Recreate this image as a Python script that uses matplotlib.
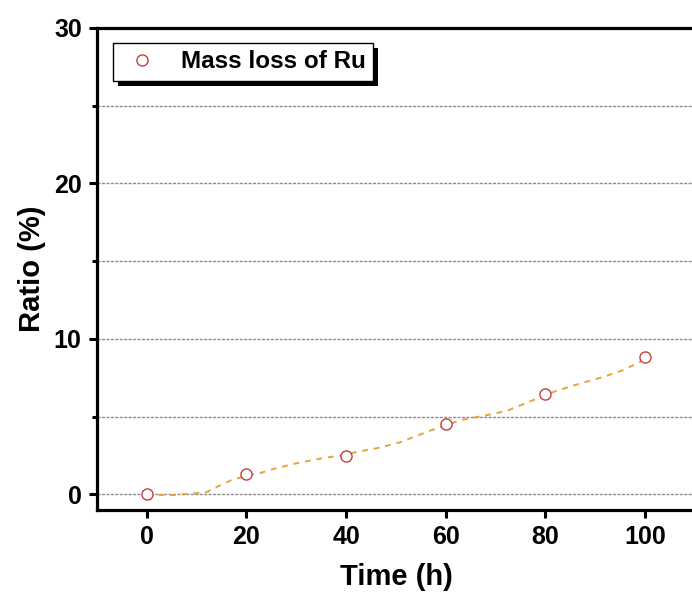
import matplotlib.pyplot as plt
from matplotlib.patches import Rectangle

plt.rcParams['font.family'] = ['Liberation Sans', 'DejaVu Sans']
plt.rcParams['font.weight'] = 'bold'

time_h = [0, 20, 40, 60, 80, 100]
ratio = [0.0, 1.29, 2.47, 4.5, 6.43, 8.82]

# dashed fit curve
fit_x = [0, 4.6, 8.8, 12, 14.4, 16.8, 20, 22.7, 25.3, 29.7, 34, 36, 40, 42, 46.4,
         50.8, 54.4, 57.1, 60, 62.8, 68.2, 72.2, 76.2, 80, 82.2, 87, 91, 95.7, 99, 100]
fit_y = [0.0, -0.05, 0.05, 0.15, 0.54, 0.9, 1.2, 1.37, 1.63, 1.98, 2.26, 2.37, 2.55, 2.73, 2.99,
         3.35, 3.8, 4.13, 4.45, 4.77, 5.1, 5.37, 5.89, 6.4, 6.66, 7.14, 7.5, 8.0, 8.54, 8.82]

y_major = [0, 10, 20, 30]
y_minor = [5, 15, 25]
grid_y = [0, 5, 10, 15, 20, 25]
x_major = [0, 20, 40, 60, 80, 100]

fig = plt.figure(figsize=(6.92, 5.94), dpi=100)
ax = fig.add_axes([0.1402, 0.1414, 0.864, 0.8115])

for g in grid_y:
    ax.axhline(g, color='#8c8c8c', lw=1.0, dashes=(2.2, 1.0), zorder=1)

ax.plot(fit_x, fit_y, color='#e8a23c', lw=1.4, dashes=(3, 3), zorder=2)
ax.plot(time_h, ratio, 'o', ms=8, mfc='white', mec='#c83c3c', mew=1.0,
        label='Mass loss of Ru', zorder=3)

ax.set_xlim(-10, 110)
ax.set_ylim(-1, 30)
ax.set_xticks(x_major)
ax.set_yticks(y_major)
ax.set_yticks(y_minor, minor=True)
ax.tick_params(axis='both', which='major', direction='out', length=6, width=2.2,
               labelsize=18, pad=5)
ax.tick_params(axis='y', which='minor', direction='out', length=3.5, width=2.2)
for lab in ax.get_xticklabels() + ax.get_yticklabels():
    lab.set_fontweight('bold')

for s in ax.spines.values():
    s.set_linewidth(2.3)

ax.set_xlabel('Time (h)', fontsize=21, fontweight='bold', labelpad=10)
ax.set_ylabel('Ratio (%)', fontsize=21, fontweight='bold', labelpad=6)

leg = ax.legend(loc='upper left', bbox_to_anchor=(0.027, 0.969), borderaxespad=0,
                fontsize=17.5, frameon=True, fancybox=False, framealpha=1.0,
                borderpad=0.3, handlelength=1.8, handletextpad=0.7)
leg.get_frame().set_edgecolor('black')
leg.get_frame().set_linewidth(1.0)
leg.set_zorder(6)
for t in leg.get_texts():
    t.set_fontweight('bold')

# solid black drop shadow behind the legend box
fig.canvas.draw()
bb = leg.get_window_extent()
ax.add_patch(Rectangle((bb.x0 + 5, bb.y0 - 5), bb.width, bb.height, transform=None,
                       facecolor='black', edgecolor='none', zorder=5, clip_on=False))

fig.savefig('out.png', dpi=100)
